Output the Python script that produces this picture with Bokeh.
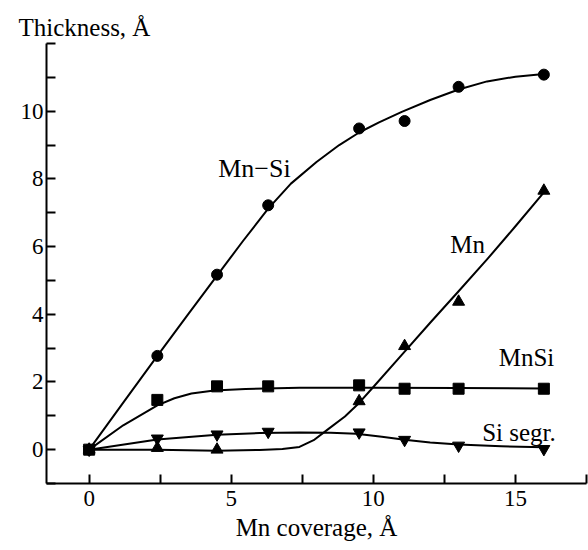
from bokeh.plotting import figure
from bokeh.models import Range1d, FixedTicker, Label
from bokeh.embed import file_html
from bokeh.resources import INLINE

# Measured points
coverage = [0, 2.4, 4.5, 6.3, 9.5, 11.1, 13.0, 16.0]
mnsi_total = [0, 2.77, 5.17, 7.22, 9.49, 9.71, 10.72, 11.08]   # Mn-Si, circles
mnsi_phase = [0, 1.47, 1.87, 1.87, 1.90, 1.80, 1.80, 1.80]     # MnSi, squares
si_segr = [0, 0.33, 0.45, 0.53, 0.51, 0.29, 0.12, 0.02]        # Si segr., down triangles
mn_cov = [0, 2.4, 4.5, 9.5, 11.1, 13.0, 16.0]
mn_metal = [0, 0.05, 0.0, 1.43, 3.06, 4.37, 7.65]              # Mn, up triangles

# Guide curves
fit_total_x = [0, 1.2, 2.4, 3.5, 4.5, 5.4, 6.3, 7.1, 8.0, 8.8, 9.5, 10.2, 11.0, 12.0, 13.0, 14.0, 15.0, 16.0]
fit_total_y = [0, 1.39, 2.77, 4.02, 5.14, 6.15, 7.12, 7.86, 8.5, 9.0, 9.37, 9.67, 9.98, 10.33, 10.64, 10.88, 11.02, 11.1]
fit_phase_x = [0, 1.2, 2.4, 3.0, 3.6, 4.4, 5.5, 7.4, 10.0, 13.0, 16.0]
fit_phase_y = [0, 0.72, 1.31, 1.52, 1.66, 1.75, 1.79, 1.83, 1.83, 1.82, 1.81]
fit_segr_x = [0, 2.4, 4.5, 6.0, 7.4, 8.5, 9.4, 10.3, 11.1, 12.0, 13.0, 14.5, 16.0]
fit_segr_y = [0, 0.30, 0.44, 0.49, 0.51, 0.50, 0.47, 0.38, 0.29, 0.21, 0.15, 0.10, 0.07]
fit_mn_x = [0, 2.4, 4.5, 6.0, 6.8, 7.4, 7.9, 8.4, 9.0, 9.5, 10.0, 11.0, 12.0, 13.0, 14.0, 15.0, 16.0]
fit_mn_y = [0, 0.0, -0.03, -0.01, 0.02, 0.08, 0.28, 0.6, 0.98, 1.38, 1.85, 2.8, 3.75, 4.68, 5.62, 6.6, 7.6]

x_major = [0, 5, 10, 15]
x_minor = [2.5, 7.5, 12.5, 17.5]
y_major = [0, 2, 4, 6, 8, 10]
y_minor = [-1, 1, 3, 5, 7, 9, 11, 12]

FONT = "'Liberation Serif', 'Times New Roman', serif"

p = figure(width=588, height=550, x_range=Range1d(-1.5, 17.5), y_range=Range1d(-1, 12),
           output_backend="svg", toolbar_location=None,
           min_border_left=46, min_border_right=2, min_border_top=43, min_border_bottom=67)
p.outline_line_color = None
p.xgrid.visible = False
p.ygrid.visible = False
p.background_fill_color = "white"

p.title.text = "Thickness, Å"
p.title.align = "left"
p.title.offset = -28
p.title.standoff = 5
p.title.text_font = FONT
p.title.text_font_size = "25px"
p.title.text_font_style = "normal"
p.title.text_color = "black"

for ax in (p.xaxis[0], p.yaxis[0]):
    ax.axis_line_width = 2
    ax.major_tick_line_width = 2
    ax.minor_tick_line_width = 2
    ax.major_tick_in = 9
    ax.major_tick_out = 0
    ax.minor_tick_in = 9
    ax.minor_tick_out = 0
    ax.major_label_text_font = FONT
    ax.major_label_text_font_size = "23px"
    ax.major_label_text_color = "black"
    ax.axis_line_color = "black"
    ax.major_tick_line_color = "black"
    ax.minor_tick_line_color = "black"

p.xaxis[0].ticker = FixedTicker(ticks=x_major, minor_ticks=x_minor)
p.yaxis[0].ticker = FixedTicker(ticks=y_major, minor_ticks=y_minor)
p.xaxis[0].major_label_standoff = 7
p.yaxis[0].major_label_standoff = 3
p.xaxis[0].axis_label = "Mn coverage, Å"
p.xaxis[0].axis_label_text_font = FONT
p.xaxis[0].axis_label_text_font_size = "25px"
p.xaxis[0].axis_label_text_font_style = "normal"
p.xaxis[0].axis_label_text_color = "black"
p.xaxis[0].axis_label_standoff = 5

# curves
for fx, fy in [(fit_total_x, fit_total_y), (fit_phase_x, fit_phase_y),
               (fit_segr_x, fit_segr_y), (fit_mn_x, fit_mn_y)]:
    p.line(fx, fy, line_color="black", line_width=2, line_join="round")

# markers
p.scatter(coverage, mnsi_total, marker="circle", size=11, color="black")
p.scatter(coverage, mnsi_phase, marker="square", size=11, color="black")
p.scatter(coverage, si_segr, marker="inverted_triangle", size=12, color="black")
p.scatter(mn_cov, mn_metal, marker="triangle", size=12, color="black")

# annotations
def lab(x, y, t, size="25px"):
    p.add_layout(Label(x=x, y=y, text=t, text_font=FONT, text_font_size=size,
                       text_color="black", text_baseline="alphabetic"))

lab(4.54, 8.31, "Mn\u2212Si", "26px")
lab(12.71, 6.05, "Mn")
lab(14.41, 2.72, "MnSi")
lab(13.83, 0.50, "Si segr.")

open("out.html", "w").write(file_html(p, INLINE))
